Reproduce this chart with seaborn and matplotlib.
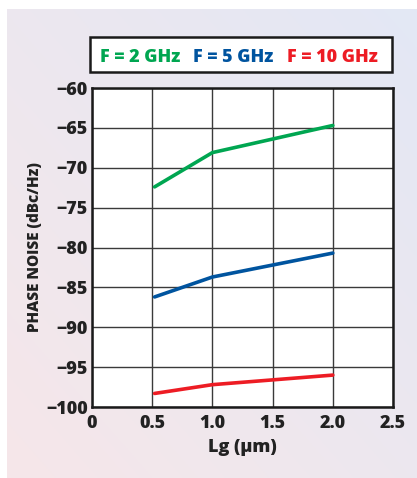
import numpy as np
import pandas as pd
import matplotlib
matplotlib.use("Agg")
import matplotlib.pyplot as plt
from matplotlib.patches import Rectangle
import seaborn as sns

# ---- data ----
lg = [0.52, 1.0, 2.0]
noise_2ghz = [-72.4, -68.1, -64.7]
noise_5ghz = [-86.2, -83.7, -80.7]
noise_10ghz = [-98.3, -97.2, -96.0]
series_labels = ["F = 2 GHz", "F = 5 GHz", "F = 10 GHz"]
series_colors = ["#00A651", "#00549F", "#ED1C24"]
x_ticks = [0, 0.5, 1.0, 1.5, 2.0, 2.5]
x_ticklabels = ["0", "0.5", "1.0", "1.5", "2.0", "2.5"]
y_ticks = [-100, -95, -90, -85, -80, -75, -70, -65, -60]

df = pd.DataFrame({
    "Lg": lg * 3,
    "noise": noise_2ghz + noise_5ghz + noise_10ghz,
    "series": [series_labels[0]] * 3 + [series_labels[1]] * 3 + [series_labels[2]] * 3,
})

sns.set_theme(style="white")
plt.rcParams["font.family"] = ["Open Sans", "DejaVu Sans"]
plt.rcParams["font.weight"] = "heavy"

W, H = 417, 478
fig = plt.figure(figsize=(W / 100, H / 100), dpi=100)
fig.patch.set_facecolor("white")

# background gradient panel
bg = fig.add_axes([7 / W, 0, 1 - 7 / W, 1 - 9 / H])
bg.set_axis_off()
ny, nx = 200, 200
yy, xx = np.mgrid[0:1:ny * 1j, 0:1:nx * 1j]
t = np.clip((xx + yy) / 2, 0, 1)
c0 = np.array([0.965, 0.905, 0.915])
c1 = np.array([0.890, 0.910, 0.960])
img = c0[None, None, :] * (1 - t[..., None]) + c1[None, None, :] * t[..., None]
bg.imshow(img, origin="lower", aspect="auto", extent=[0, 1, 0, 1])
bg.set_zorder(0)

ax = fig.add_axes([92 / W, 1 - 407 / H, (393 - 92) / W, (407 - 88) / H])
ax.set_zorder(2)
ax.set_facecolor("white")

sns.lineplot(data=df, x="Lg", y="noise", hue="series", palette=series_colors,
             hue_order=series_labels, linewidth=2.6, legend=False, ax=ax)

ax.set_xlim(0, 2.5)
ax.set_ylim(-100, -60)
ax.set_xticks(x_ticks)
ax.set_xticklabels(x_ticklabels)
ax.set_yticks(y_ticks)
ax.set_yticklabels([f"\u2212{abs(v)}" for v in y_ticks])
ax.grid(True, color="#3a3a3a", linewidth=1.0)
ax.set_axisbelow(True)
for s in ax.spines.values():
    s.set_visible(True)
    s.set_color("#1a1a1a")
    s.set_linewidth(1.8)
ax.tick_params(axis="both", length=0, labelsize=13, colors="#222222")
ax.tick_params(axis="y", pad=3)
ax.tick_params(axis="x", pad=6)
for lab in ax.get_xticklabels() + ax.get_yticklabels():
    lab.set_fontweight("heavy")
ax.set_xlabel("Lg (\u03bcm)", fontsize=13, fontweight="heavy", color="#222222", labelpad=5)
ax.set_ylabel("PHASE NOISE (dBc/Hz)", fontsize=11, fontweight="heavy", color="#222222", labelpad=2)

# legend box
lx0, ly0, lx1, ly1 = 90, 37, 392, 72
fig.patches.append(Rectangle((lx0 / W, 1 - ly1 / H), (lx1 - lx0) / W, (ly1 - ly0) / H,
                             transform=fig.transFigure, facecolor="white",
                             edgecolor="#1a1a1a", linewidth=1.8, zorder=3))
text_x = [100, 193, 287]
for tx, lab, col in zip(text_x, series_labels, series_colors):
    fig.text(tx / W, 1 - 57 / H, lab, color=col, fontsize=13, fontweight="heavy",
             ha="left", va="center", zorder=4)

fig.savefig("out.png", dpi=100)
